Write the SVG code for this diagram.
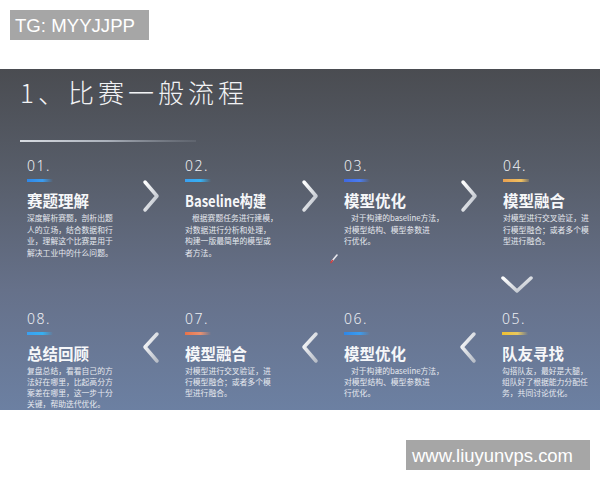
<svg xmlns="http://www.w3.org/2000/svg" width="600" height="480" viewBox="0 0 600 480">
<defs>
<linearGradient id="bg" x1="0" y1="0" x2="0" y2="1">
<stop offset="0" stop-color="#4a4c51"/>
<stop offset="0.3" stop-color="#575d69"/>
<stop offset="0.65" stop-color="#66718a"/>
<stop offset="1" stop-color="#6c80a2"/>
</linearGradient>
<linearGradient id="uline" x1="0" y1="0" x2="1" y2="0">
<stop offset="0" stop-color="#d8dce2"/>
<stop offset="0.5" stop-color="#aab0ba"/>
<stop offset="1" stop-color="#7a808a" stop-opacity="0.3"/>
</linearGradient>
<linearGradient id="chev" x1="0" y1="0" x2="1" y2="1">
<stop offset="0" stop-color="#ffffff"/>
<stop offset="1" stop-color="#b8bec8"/>
</linearGradient>
<linearGradient id="bBlue" x1="0" y1="0" x2="1" y2="0">
<stop offset="0" stop-color="#2f86e6"/><stop offset="0.6" stop-color="#3a9cf0"/><stop offset="1" stop-color="#3a9cf0" stop-opacity="0"/>
</linearGradient>
<linearGradient id="bBlue2" x1="0" y1="0" x2="1" y2="0">
<stop offset="0" stop-color="#3a9ff0"/><stop offset="0.6" stop-color="#36b0f2"/><stop offset="1" stop-color="#36b0f2" stop-opacity="0"/>
</linearGradient>
<linearGradient id="bPur" x1="0" y1="0" x2="1" y2="0">
<stop offset="0" stop-color="#3f68e0"/><stop offset="0.6" stop-color="#4a7cf0"/><stop offset="1" stop-color="#4a7cf0" stop-opacity="0"/>
</linearGradient>
<linearGradient id="bOrg" x1="0" y1="0" x2="1" y2="0">
<stop offset="0" stop-color="#e8a050"/><stop offset="0.7" stop-color="#f0c060"/><stop offset="1" stop-color="#f0c060" stop-opacity="0.2"/>
</linearGradient>
<linearGradient id="bYel" x1="0" y1="0" x2="1" y2="0">
<stop offset="0" stop-color="#f0c030"/><stop offset="0.6" stop-color="#e8c860"/><stop offset="1" stop-color="#e8c860" stop-opacity="0"/>
</linearGradient>
<linearGradient id="bRed" x1="0" y1="0" x2="1" y2="0">
<stop offset="0" stop-color="#e87248"/><stop offset="0.6" stop-color="#e89070"/><stop offset="1" stop-color="#e89070" stop-opacity="0"/>
</linearGradient>
<style>
.num{font-family:"Noto Sans","DejaVu Sans",sans-serif;font-size:14px;font-weight:300;fill:#eef0f4;letter-spacing:1.5px}
.ttl{font-family:"Noto Sans CJK SC","Noto Sans",sans-serif;font-size:15.5px;font-weight:bold;fill:#f6f7f9}
.body{font-family:"Noto Sans CJK SC","Noto Sans",sans-serif;font-size:7.8px;fill:#e6e9ef}
.chev{fill:none;stroke:url(#chev);stroke-width:3.5;stroke-linecap:round;stroke-linejoin:round}
.wm{font-family:"Liberation Sans",Arial,sans-serif;fill:#ffffff}
</style>
</defs>
<rect x="0" y="0" width="600" height="480" fill="#ffffff"/>
<rect x="0" y="69" width="600" height="341" fill="url(#bg)"/>
<g id="title">
<text x="20" y="103" font-family="Noto Sans CJK SC,Noto Sans,sans-serif" font-size="26" font-weight="300" fill="#f2f3f5" letter-spacing="4">1、比赛一般流程</text>
<rect x="20" y="140" width="176" height="2" fill="url(#uline)"/>
</g>
<g id="step01">
<text class="num" x="27" y="171">01.</text>
<rect x="27" y="179" width="26" height="3" fill="url(#bBlue)"/>
<text class="ttl" x="27" y="207">赛题理解</text>
<text class="body" x="27" y="221">深度解析赛题，剖析出题</text>
<text class="body" x="27" y="232.5">人的立场，结合数据和行</text>
<text class="body" x="27" y="244">业，理解这个比赛是用于</text>
<text class="body" x="27" y="255.5">解决工业中的什么问题。</text>
</g>
<g id="step02">
<text class="num" x="185" y="171">02.</text>
<rect x="185" y="179" width="26" height="3" fill="url(#bBlue2)"/>
<text class="ttl" x="185" y="207" textLength="81" lengthAdjust="spacingAndGlyphs">Baseline构建</text>
<text class="body" x="192" y="221">根据赛题任务进行建模，</text>
<text class="body" x="185" y="232.5">对数据进行分析和处理，</text>
<text class="body" x="185" y="244">构建一版最简单的模型或</text>
<text class="body" x="185" y="255.5">者方法。</text>
</g>
<g id="step03">
<text class="num" x="344" y="171">03.</text>
<rect x="344" y="179" width="26" height="3" fill="url(#bPur)"/>
<text class="ttl" x="344" y="207">模型优化</text>
<text class="body" x="351" y="221">对于构建的baseline方法，</text>
<text class="body" x="344" y="232.5">对模型结构、模型参数进</text>
<text class="body" x="344" y="244">行优化。</text>
</g>
<g id="step04">
<text class="num" x="503" y="171">04.</text>
<rect x="503" y="179" width="26" height="3" fill="url(#bOrg)"/>
<text class="ttl" x="503" y="207">模型融合</text>
<text class="body" x="503" y="221">对模型进行交叉验证，进</text>
<text class="body" x="503" y="232.5">行模型融合；或者多个模</text>
<text class="body" x="503" y="244">型进行融合。</text>
</g>
<g id="step05">
<text class="num" x="502" y="324">05.</text>
<rect x="502" y="332" width="26" height="3" fill="url(#bYel)"/>
<text class="ttl" x="502" y="360">队友寻找</text>
<text class="body" x="502" y="374">勾搭队友，最好是大腿，</text>
<text class="body" x="502" y="385">组队好了根据能力分配任</text>
<text class="body" x="502" y="396">务，共同讨论优化。</text>
</g>
<g id="step06">
<text class="num" x="344" y="324">06.</text>
<rect x="344" y="332" width="26" height="3" fill="url(#bBlue)"/>
<text class="ttl" x="344" y="360">模型优化</text>
<text class="body" x="351" y="374">对于构建的baseline方法，</text>
<text class="body" x="344" y="385">对模型结构、模型参数进</text>
<text class="body" x="344" y="396">行优化。</text>
</g>
<g id="step07">
<text class="num" x="185" y="324">07.</text>
<rect x="185" y="332" width="26" height="3" fill="url(#bRed)"/>
<text class="ttl" x="185" y="360">模型融合</text>
<text class="body" x="185" y="374">对模型进行交叉验证，进</text>
<text class="body" x="185" y="385">行模型融合；或者多个模</text>
<text class="body" x="185" y="396">型进行融合。</text>
</g>
<g id="step08">
<text class="num" x="27" y="324">08.</text>
<rect x="27" y="332" width="26" height="3" fill="url(#bBlue2)"/>
<text class="ttl" x="27" y="360">总结回顾</text>
<text class="body" x="27" y="374">复盘总结，看看自己的方</text>
<text class="body" x="27" y="385">法好在哪里，比起高分方</text>
<text class="body" x="27" y="396">案差在哪里，这一步十分</text>
<text class="body" x="27" y="407">关键，帮助迭代优化。</text>
</g>
<g id="connectors">
<polyline class="chev" points="145,182 157,196 145,210"/>
<polyline class="chev" points="304,182 316,196 304,210"/>
<polyline class="chev" points="463,182 475,196 463,210"/>
<polyline class="chev" points="503,278 517,291 531,278"/>
<polyline class="chev" points="474,334 462,347 474,361"/>
<polyline class="chev" points="316,334 304,347 316,361"/>
<polyline class="chev" points="157,334 145,347 157,361"/>
</g>
<g id="pencil">
<line x1="337" y1="255" x2="332" y2="261" stroke="#e8e8ee" stroke-width="1.6" stroke-linecap="round"/>
<line x1="332.5" y1="260.5" x2="331" y2="262.5" stroke="#d04040" stroke-width="1.6" stroke-linecap="round"/>
</g>
<g id="wm-tg">
<rect x="10" y="10" width="139" height="30" fill="#a6a6a6"/>
<text class="wm" x="15" y="32" font-size="18" textLength="120" lengthAdjust="spacingAndGlyphs">TG: MYYJJPP</text>
</g>
<g id="wm-url">
<rect x="406" y="440" width="184" height="30" fill="#a6a6a6"/>
<text class="wm" x="412" y="462" font-size="17.5" textLength="161" lengthAdjust="spacingAndGlyphs">www.liuyunvps.com</text>
</g>
</svg>
